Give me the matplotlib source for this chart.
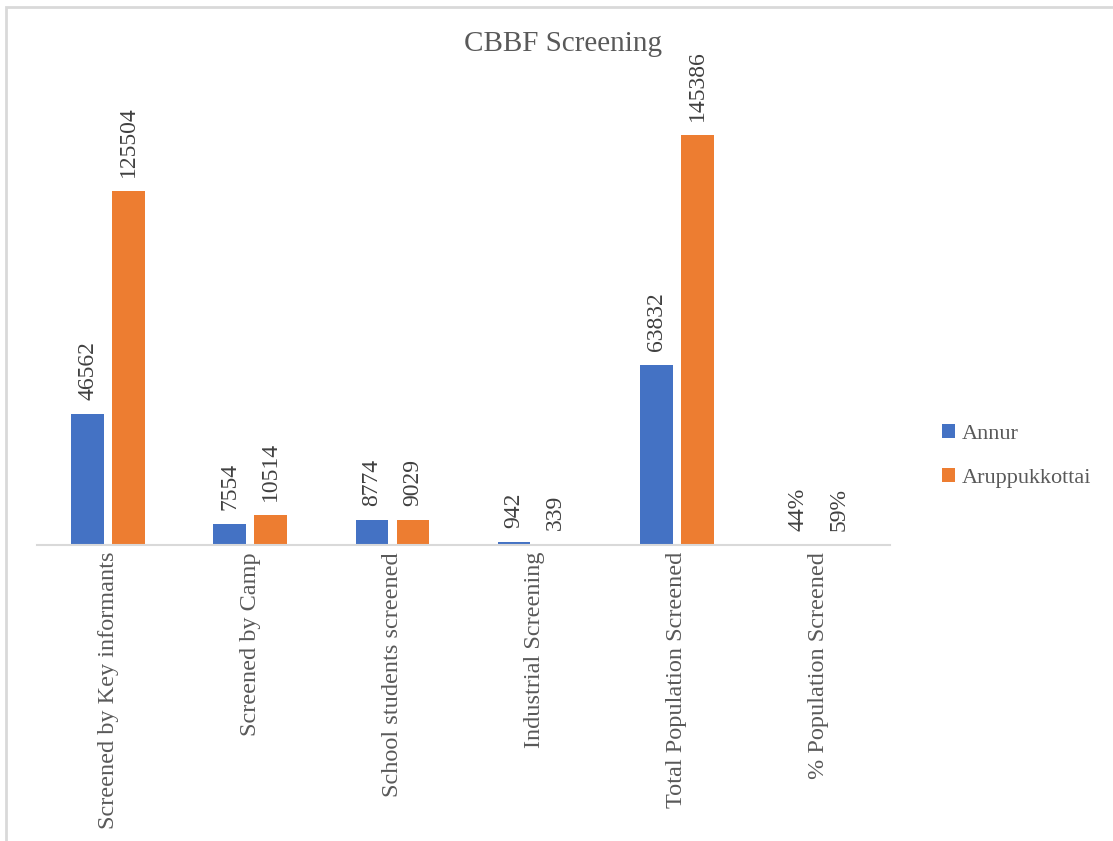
import matplotlib.pyplot as plt
import numpy as np
from matplotlib.patches import Rectangle

categories = ["Screened by Key informants", "Screened by Camp",
              "School students screened", "Industrial Screening",
              "Total Population Screened", "% Population Screened"]
annur = [46562, 7554, 8774, 942, 63832, 0.44]
aruppukkottai = [125504, 10514, 9029, 339, 145386, 0.59]
annur_labels = ["46562", "7554", "8774", "942", "63832", "44%"]
arup_labels = ["125504", "10514", "9029", "339", "145386", "59%"]

W, H = 1113, 841
fig = plt.figure(figsize=(W / 100, H / 100), dpi=100)
fig.patch.set_facecolor("white")

# chart border (only top and left visible in the crop)
fig.patches.append(Rectangle((6 / W, -0.1), 1.2, 1 - 7 / H + 0.1,
                             transform=fig.transFigure, fill=False,
                             edgecolor="#d9d9d9", linewidth=2))

ax = fig.add_axes([37 / W, 1 - 545 / H, (890 - 37) / W, (545 - 94) / H])

x = np.arange(len(categories))
bw = 0.23
off = 0.144
grey = "#595959"
font = "Liberation Serif"

b1 = ax.bar(x - off, annur, bw, color="#4472C4", label="Annur")
b2 = ax.bar(x + off, aruppukkottai, bw, color="#ED7D31", label="Aruppukkottai")

for bars, labels in ((b1, annur_labels), (b2, arup_labels)):
    for rect, lab in zip(bars, labels):
        ax.annotate(lab, (rect.get_x() + rect.get_width() / 2, rect.get_height()),
                    xytext=(0, 10), textcoords="offset points",
                    rotation=90, ha="center", va="bottom",
                    fontsize=17, color="#404040", family=font)

ax.set_xlim(-0.5, len(categories) - 0.5)
ax.set_ylim(0, 160000)
ax.set_yticks([])
ax.set_xticks(x)
ax.set_xticklabels(categories, rotation=90, fontsize=17.5, color=grey, family=font)
ax.tick_params(axis="x", length=0, pad=5)
for s in ("top", "right", "left"):
    ax.spines[s].set_visible(False)
ax.spines["bottom"].set_color("#d9d9d9")
ax.spines["bottom"].set_linewidth(1.5)

fig.text(563 / W, 1 - 44 / H, "CBBF Screening", ha="center", va="center",
         fontsize=21, color=grey, family=font)

fig.legend(handles=[b1, b2], loc="center left", bbox_to_anchor=(922 / W, 1 - 456 / H),
           frameon=False, prop={"family": font, "size": 16}, labelcolor=grey,
           handlelength=0.6, handleheight=0.6, handletextpad=0.3, labelspacing=1.1)

fig.savefig("out.png", dpi=100)
